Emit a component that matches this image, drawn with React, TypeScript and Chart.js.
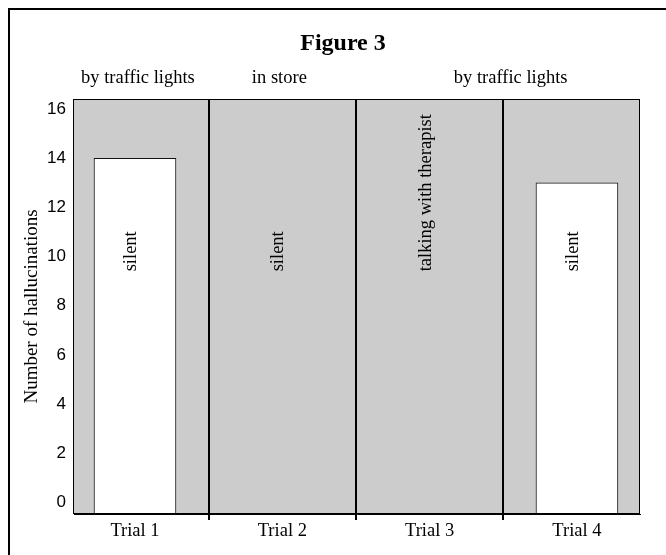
import React, { useEffect, useRef } from 'react';
import { Chart, registerables } from 'chart.js';

Chart.register(...registerables);

const TITLE = 'Figure 3';
const Y_TITLE = 'Number of hallucinations';
const TRIALS = ['Trial 1', 'Trial 2', 'Trial 3', 'Trial 4'];
const HALLUCINATIONS: (number | null)[] = [14, null, null, 13];
const CONDITIONS = ['silent', 'silent', 'talking with therapist', 'silent'];
const LOCATIONS = ['by traffic lights', 'in store', 'by traffic lights'];
const LOCATION_AT = [0.02, 0.98, 2.55];
const DIVIDERS = [0.5, 1.5, 2.5];
const Y_TICKS = [0, 2, 4, 6, 8, 10, 12, 14, 16];
const CONDITION_LABEL_Y = 9.4;

const X_MIN = -0.414;
const X_MAX = 3.428;
const Y_MIN = -0.47;
const Y_MAX = 16.41;

const SERIF = '"Liberation Serif", "Times New Roman", serif';
const SANS = '"Liberation Sans", Arial, sans-serif';

const decorPlugin = {
  id: 'decor',
  beforeDraw(chart: any) {
    const { ctx, chartArea: a } = chart;
    ctx.save();
    ctx.fillStyle = '#cccccc';
    ctx.fillRect(a.left, a.top, a.right - a.left, a.bottom - a.top);
    ctx.restore();
  },
  afterDatasetsDraw(chart: any) {
    const { ctx, chartArea: a, scales } = chart;
    const xs = scales.x;
    const ys = scales.y;
    ctx.save();
    ctx.strokeStyle = '#000';
    ctx.lineWidth = 1;
    ctx.strokeRect(Math.round(a.left) - 0.5, Math.round(a.top) + 0.5, Math.round(a.right - a.left), Math.round(a.bottom - a.top) - 1);

    ctx.fillStyle = '#000';
    ctx.textAlign = 'center';
    ctx.textBaseline = 'alphabetic';
    ctx.font = `bold 24px ${SERIF}`;
    ctx.fillText(TITLE, 343, 50);

    ctx.font = `18.5px ${SERIF}`;
    LOCATIONS.forEach((t, i) => {
      ctx.fillText(t, xs.getPixelForValue(LOCATION_AT[i]), 83);
    });

    ctx.textAlign = 'left';
    CONDITIONS.forEach((t, i) => {
      ctx.save();
      ctx.translate(xs.getPixelForValue(i) + 1, ys.getPixelForValue(CONDITION_LABEL_Y));
      ctx.rotate(-Math.PI / 2);
      ctx.fillText(t, 0, 0);
      ctx.restore();
    });
    ctx.restore();
  },
};

export default function App() {
  const ref = useRef<HTMLCanvasElement>(null);
  useEffect(() => {
    if (!ref.current) return;
    const chart = new Chart(ref.current, {
      type: 'bar',
      data: {
        datasets: [
          {
            data: TRIALS.map((_, i) => ({ x: i, y: HALLUCINATIONS[i] })) as any,
            backgroundColor: '#ffffff',
            borderColor: '#111111',
            borderWidth: 1,
            borderSkipped: 'start',
            base: Y_MIN,
            barThickness: 82,
          } as any,
        ],
      },
      options: {
        animation: false,
        responsive: false,
        maintainAspectRatio: false,
        layout: { padding: { left: 0, top: 99, right: 26, bottom: 0 } },
        plugins: {
          legend: { display: false },
          tooltip: { enabled: false },
          title: { display: false },
        },
        scales: {
          x: {
            type: 'linear',
            offset: false,
            min: X_MIN,
            max: X_MAX,
            afterBuildTicks: (s: any) => {
              s.ticks = [...TRIALS.map((_, i) => i), ...DIVIDERS]
                .sort((p, q) => p - q)
                .map((v) => ({ value: v }));
            },
            afterFit: (s: any) => {
              s.height = 41;
            },
            ticks: {
              autoSkip: false,
              maxRotation: 0,
              padding: 0,
              color: '#000',
              font: { family: SERIF, size: 18.5 },
              callback: (v: any) => (Number.isInteger(v) ? TRIALS[v] : ''),
            },
            grid: {
              offset: false,
              color: (c: any) => (c.tick && DIVIDERS.includes(c.tick.value) ? '#000' : 'rgba(0,0,0,0)'),
              lineWidth: 2,
              drawTicks: true,
              tickLength: 6,
            },
            border: { display: true, color: '#000', width: 1 },
          },
          y: {
            type: 'linear',
            min: Y_MIN,
            max: Y_MAX,
            afterBuildTicks: (s: any) => {
              s.ticks = Y_TICKS.map((v) => ({ value: v }));
            },
            afterFit: (s: any) => {
              s.width = 74;
            },
            ticks: {
              padding: 8,
              color: '#000',
              font: { family: SANS, size: 17 },
            },
            grid: { display: false, drawTicks: false },
            border: { display: false },
            title: {
              display: true,
              text: Y_TITLE,
              color: '#000',
              font: { family: SERIF, size: 19 },
              padding: { top: 21, bottom: 0 },
            },
          },
        },
      } as any,
      plugins: [decorPlugin],
    });
    return () => chart.destroy();
  }, []);

  return (
    <>
      <div style={{ position: 'fixed', left: 0, top: 0, width: 666, height: 555, background: '#fff' }}>
        <canvas ref={ref} width={666} height={555} style={{ width: 666, height: 555, display: 'block' }} />
      </div>
      <div
        style={{
          position: 'fixed',
          left: 8,
          top: 8,
          width: 700,
          height: 600,
          border: '2px solid #000',
          boxSizing: 'border-box',
          pointerEvents: 'none',
        }}
      />
    </>
  );
}
